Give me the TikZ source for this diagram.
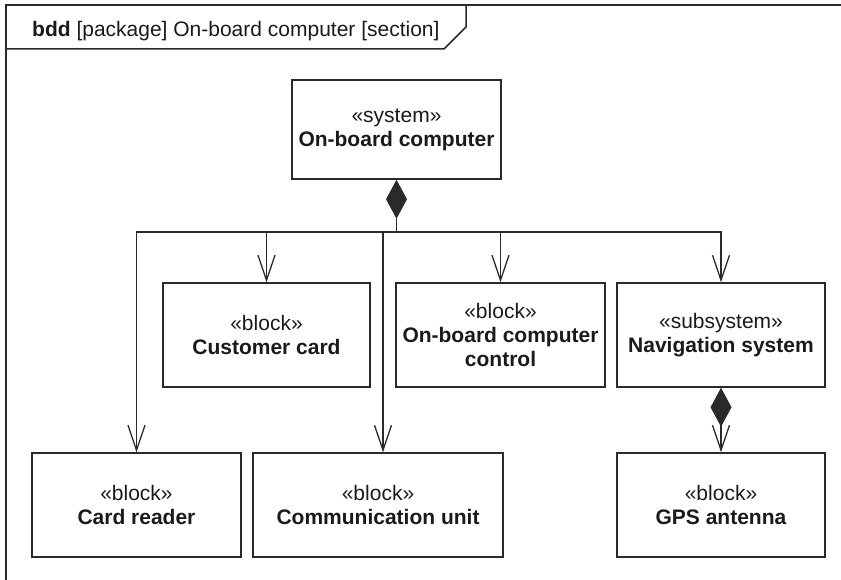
\documentclass[tikz,border=0pt]{standalone}
\usepackage{fontspec}
\setmainfont{Liberation Sans}
\usetikzlibrary{arrows.meta}
\definecolor{ln}{HTML}{2A2A2A}
\definecolor{txt}{HTML}{1A1A1A}
\tikzset{
  blk/.style={draw=ln, line width=1.5pt, inner sep=0pt, align=center, text=txt,
    font=\fontsize{21}{24}\selectfont},
  conn/.style={draw=ln, line width=1.3pt, -{Straight Barb[length=25pt,width=17pt]}},
  comp/.style={draw=ln, fill=txt, line width=1.3pt, {Diamond[length=39pt,width=21pt]}-},
  compconn/.style={draw=ln, fill=txt, line width=1.3pt,
    {Diamond[length=39pt,width=21pt]}-{Straight Barb[length=25pt,width=17pt,fill=none]}},
  frm/.style={draw=ln, line width=1.5pt}
}
\begin{document}
\begin{tikzpicture}[x=1pt,y=-1pt]
\useasboundingbox (0,0) rectangle (841,580);
% frame
\draw[frm] (6,580) -- (6,5) -- (841,5);
\draw[frm] (6,49) -- (444,49) -- (466,27) -- (466,5);
\node[anchor=base west, inner sep=0pt, text=txt, font=\fontsize{21}{24}\selectfont] (title) at (32,37)
  {\textbf{bdd} [package] On-board computer [section]};
% blocks
\node[blk, minimum width=209pt, minimum height=99pt] (obc) at (396.5,129.5)
  {«system»\\\textbf{On-board computer}};
\node[blk, minimum width=207pt, minimum height=104pt] (cc) at (266.5,335)
  {«block»\\\textbf{Customer card}};
\node[blk, minimum width=209pt, minimum height=104pt] (ctrl) at (500.5,335)
  {«block»\\\textbf{On-board computer}\\\textbf{control}};
\node[blk, minimum width=208pt, minimum height=104pt] (nav) at (721,335)
  {«subsystem»\\\textbf{Navigation system}};
\node[blk, minimum width=209pt, minimum height=104pt] (cr) at (136.5,505)
  {«block»\\\textbf{Card reader}};
\node[blk, minimum width=250pt, minimum height=104pt] (comm) at (378,505)
  {«block»\\\textbf{Communication unit}};
\node[blk, minimum width=208pt, minimum height=104pt] (gps) at (721,505)
  {«block»\\\textbf{GPS antenna}};
% connectors
\coordinate (bus) at (396.5,232);
\coordinate (commtop) at ([xshift=5pt]comm.north);
\draw[comp] (obc.south) -- (bus);
\draw[conn] (bus) -| (cr.north);
\draw[conn] (bus) -| (cc.north);
\draw[conn] (bus) -| (commtop);
\draw[conn] (bus) -| (ctrl.north);
\draw[conn] (bus) -| (nav.north);
\draw[compconn] (nav.south) -- (gps.north);
\end{tikzpicture}
\end{document}
